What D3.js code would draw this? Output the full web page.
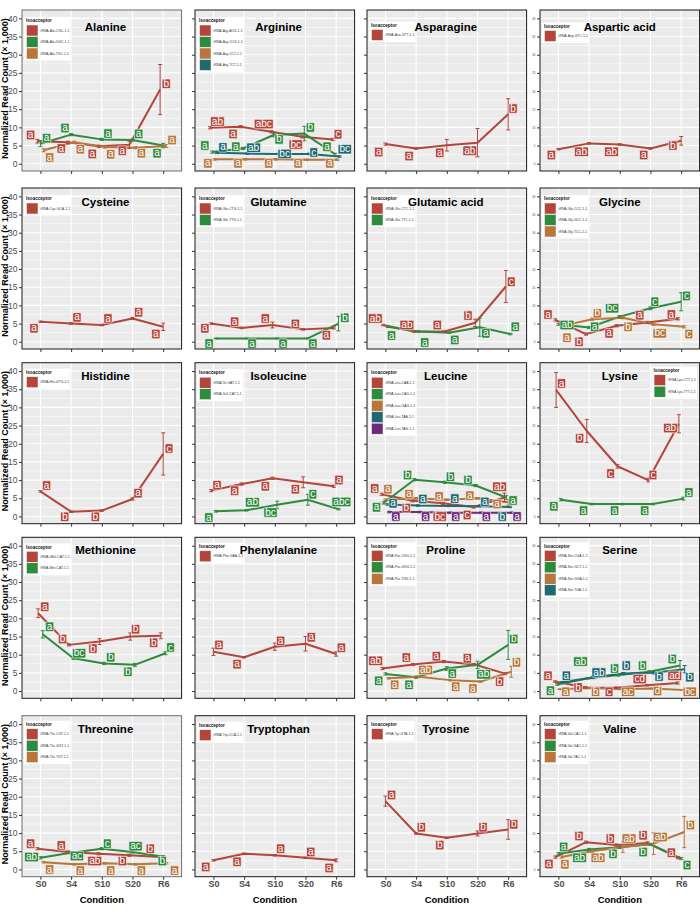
<!DOCTYPE html>
<html><head><meta charset="utf-8">
<script src="https://cdn.jsdelivr.net/npm/d3@7"></script>
<style>body{margin:0;background:#fff}svg{display:block}</style>
</head><body>
<script>
// ---------------- DATA ----------------
const conditions = ["S0","S4","S10","S20","R6"];
const yTicks = [0,5,10,15,20,25,30,35,40];
const aminoAcids = ["Alanine","Arginine","Asparagine","Aspartic acid","Cysteine","Glutamine","Glutamic acid","Glycine","Histidine","Isoleucine","Leucine","Lysine","Methionine","Phenylalanine","Proline","Serine","Threonine","Tryptophan","Tyrosine","Valine"];
const isoacceptors = [
 ["tRNA-Ala-CGC-1-1","tRNA-Ala-GGC-1-1","tRNA-Ala-TGC-1-1"],
 ["tRNA-Arg-ACG-1-1","tRNA-Arg-CCG-1-1","tRNA-Arg-CCT-1-1","tRNA-Arg-TCT-1-1"],
 ["tRNA-Asn-GTT-1-1"],
 ["tRNA-Asp-GTC-1-1"],
 ["tRNA-Cys-GCA-1-1"],
 ["tRNA-Gln-CTG-1-1","tRNA-Gln-TTG-1-1"],
 ["tRNA-Glu-CTC-1-1","tRNA-Glu-TTC-1-1"],
 ["tRNA-Gly-CCC-1-1","tRNA-Gly-GCC-1-1","tRNA-Gly-TCC-1-1"],
 ["tRNA-His-GTG-1-1"],
 ["tRNA-Ile-GAT-1-1","tRNA-Ile2-CAT-1-1"],
 ["tRNA-Leu-CAA-1-1","tRNA-Leu-CAG-1-1","tRNA-Leu-GAG-1-1","tRNA-Leu-TAA-1-1","tRNA-Leu-TAG-1-1"],
 ["tRNA-Lys-CTT-1-1","tRNA-Lys-TTT-1-1"],
 ["tRNA-iMet-CAT-1-1","tRNA-Met-CAT-1-1"],
 ["tRNA-Phe-GAA-1-1"],
 ["tRNA-Pro-CGG-1-1","tRNA-Pro-GGG-1-1","tRNA-Pro-TGG-1-1"],
 ["tRNA-Ser-CGA-1-1","tRNA-Ser-GCT-1-1","tRNA-Ser-GGA-1-1","tRNA-Ser-TGA-1-1"],
 ["tRNA-Thr-CGT-1-1","tRNA-Thr-GGT-1-1","tRNA-Thr-TGT-1-1"],
 ["tRNA-Trp-CCA-1-1"],
 ["tRNA-Tyr-GTA-1-1"],
 ["tRNA-Val-CAC-1-1","tRNA-Val-GAC-1-1","tRNA-Val-TAC-1-1"]
];
// mean normalized read counts (x 1,000) per isoacceptor, S0..R6
const means = [
 [[6.2,5.9,4.8,5.2,20.4],[5.5,8.0,6.7,6.5,5.0],[3.7,5.9,4.6,4.4,4.9]],
 [[9.9,10.2,8.8,7.4,6.7],[3.2,4.2,7.9,8.3,2.6],[1.2,1.2,1.2,1.1,1.1],[3.0,2.8,2.7,2.7,2.0]],
 [[5.4,4.2,5.1,5.8,13.6]],
 [[4.0,5.6,5.3,4.2,6.3]],
 [[5.5,5.0,4.6,6.4,4.1]],
 [[5.0,3.8,4.6,3.4,3.8],[0.9,0.9,0.9,0.9,5.0]],
 [[4.6,2.8,2.8,5.2,15.2],[4.1,2.8,2.5,4.0,2.1]],
 [[6.0,2.1,4.4,5.3,6.3],[4.8,3.9,6.9,9.2,11.0],[4.3,6.2,6.6,4.8,4.1]],
 [[6.9,1.3,1.6,4.8,17.2]],
 [[7.1,8.9,10.5,9.4,8.3],[1.4,1.7,3.2,4.6,2.0]],
 [[6.1,4.3,3.6,2.6,5.2],[3.7,10.1,9.4,8.5,5.2],[4.6,5.0,4.6,5.0,3.9],[3.3,3.0,2.9,2.8,2.6],[1.2,1.2,1.0,1.0,1.0]],
 [[34.8,23.5,13.8,10.0,25.5],[4.6,3.4,3.4,3.4,4.9]],
 [[21.4,12.7,13.6,15.0,15.2],[15.6,9.0,7.6,7.2,10.4]],
 [[10.8,9.3,12.2,13.0,10.2]],
 [[6.2,7.3,8.1,7.3,4.8],[4.7,3.8,6.2,7.2,12.7],[3.5,3.9,3.0,2.6,5.3]],
 [[2.6,1.0,0.9,1.6,2.2],[1.8,3.5,4.4,5.3,7.0],[0.5,0.8,0.5,0.7,0.3],[2.4,3.7,4.8,5.0,6.0]],
 [[5.7,4.8,4.3,3.9,3.4],[3.2,4.6,5.7,4.8,3.5],[2.0,1.4,1.7,1.4,1.7]],
 [[2.5,4.3,3.9,3.2,2.5]],
 [[18.8,9.9,8.7,9.9,11.0]],
 [[3.4,7.5,6.7,7.3,3.2],[4.3,5.5,6.1,6.9,3.0],[3.4,5.0,6.2,7.1,10.3]]
];
// standard errors
const errors = [
 [[0.5,0.3,0.3,1.0,6.9],[0.8,0.3,0.3,0.3,0.6],[0.4,0.3,0.3,0.3,0.4]],
 [[0.3,0.3,0.3,0.3,0.3],[0.3,0.3,0.5,2.0,0.3],[0.2,0.2,0.2,0.2,0.2],[0.2,0.2,0.2,0.2,0.2]],
 [[0.3,0.2,1.6,3.9,4.3]],
 [[0.2,0.2,0.2,0.2,1.2]],
 [[0.2,0.2,0.2,0.3,1.0]],
 [[0.2,0.2,0.8,0.2,0.3],[0.1,0.1,0.1,0.1,2.0]],
 [[0.2,0.2,0.2,1.0,4.4],[0.2,0.2,0.2,2.5,0.2]],
 [[0.3,0.3,0.3,0.3,0.3],[0.3,0.3,0.3,0.4,2.5],[0.3,0.3,0.3,0.3,0.3]],
 [[0.2,0.2,0.2,0.3,5.8]],
 [[0.3,0.3,0.3,1.5,0.3],[0.2,0.2,1.0,1.5,0.2]],
 [[0.3,0.3,0.3,0.3,1.2],[0.3,0.3,0.3,0.3,0.5],[0.2,0.2,0.2,0.2,0.8],[0.2,0.2,0.2,0.2,0.2],[0.2,0.2,0.2,0.2,0.2]],
 [[4.8,3.2,0.5,0.5,2.5],[0.3,0.2,0.2,0.2,0.4]],
 [[1.2,0.3,0.8,1.0,0.8],[1.0,0.3,0.3,0.4,0.4]],
 [[1.0,0.2,1.0,2.0,0.6]],
 [[0.3,0.3,0.3,0.3,0.3],[0.3,0.3,0.5,1.0,4.0],[0.2,0.2,0.2,0.2,1.5]],
 [[0.2,0.2,0.2,0.2,0.3],[0.2,0.2,0.3,0.3,1.4],[0.1,0.1,0.1,0.1,0.1],[0.2,0.3,0.3,0.3,1.0]],
 [[0.3,0.3,0.3,0.3,0.3],[0.3,0.3,0.3,0.3,0.3],[0.2,0.2,0.2,0.2,0.2]],
 [[0.2,0.2,0.2,0.2,0.4]],
 [[1.4,0.2,0.2,0.7,2.7]],
 [[0.3,0.3,0.3,0.3,0.3],[0.3,0.3,0.3,0.3,0.3],[0.3,0.3,1.5,3.0,4.3]]
];
// significance letters
const letters = [
 [["a","a","a","a","b"],["a","a","a","a","a"],["a","a","a","a","a"]],
 [["ab","a","abc","bc","c"],["a","a","b","b","a"],["a","a","a","a","a"],["a","ab","bc","c","bc"]],
 [["a","a","a","ab","b"]],
 [["a","ab","ab","a","b"]],
 [["a","a","a","a","a"]],
 [["a","a","a","a","a"],["a","a","a","a","b"]],
 [["ab","ab","a","b","c"],["a","a","a","a","a"]],
 [["a","b","a","a","a"],["ab","a","bc","c","c"],["a","b","b","bc","c"]],
 [["a","b","b","a","c"]],
 [["a","a","a","a","a"],["a","ab","bc","c","abc"]],
 [["a","b","bc","c","ab"],["a","b","b","b","a"],["a","a","a","a","a"],["a","a","a","a","b"],["a","a","a","a","a"]],
 [["a","b","c","c","ab"],["a","a","a","a","a"]],
 [["a","b","b","b","b"],["a","bc","b","b","c"]],
 [["a","a","a","a","a"]],
 [["ab","a","a","a","b"],["a","a","a","ab","b"],["a","ab","a","a","b"]],
 [["a","b","c","cd","ad"],["a","ab","b","b","b"],["a","b","ac","d","bc"],["a","ab","b","b","b"]],
 [["a","a","ab","b","b"],["ab","ac","c","ac","b"],["a","a","a","a","a"]],
 [["a","a","a","a","a"]],
 [["a","b","b","b","b"]],
 [["a","b","b","b","a"],["a","ab","b","b","c"],["a","ab","ab","ab","b"]]
];
// repelled label anchor: condition position (1 = S0 ... 5 = R6)
const labelX = [
 [[0.68,1.68,2.69,3.67,5.10],[1.20,1.80,3.20,4.20,4.80],[1.30,2.30,3.29,4.29,5.29]],
 [[1.13,1.64,2.64,3.68,5.06],[0.72,1.73,3.14,4.16,4.70],[0.82,1.80,2.80,3.76,4.79],[1.31,2.31,3.32,4.27,5.28]],
 [[0.78,1.77,2.77,3.75,5.16]],
 [[0.77,1.75,2.73,3.78,4.73]],
 [[0.79,2.19,3.20,4.20,4.76]],
 [[0.72,1.69,2.69,3.67,4.68],[0.86,2.26,3.27,4.24,5.28]],
 [[0.67,1.70,2.69,3.69,5.10],[1.20,2.28,3.26,4.27,5.23]],
 [[0.66,1.67,2.65,3.65,4.68],[1.28,2.18,2.75,4.14,5.17],[1.28,2.27,3.27,4.30,5.25]],
 [[1.20,1.79,2.79,4.18,5.19]],
 [[1.12,1.69,2.69,3.67,5.09],[0.85,2.27,2.86,4.24,5.17]],
 [[0.65,1.68,2.77,3.66,4.72],[0.71,1.72,3.12,3.69,5.16],[1.08,1.77,2.75,3.75,4.64],[1.25,2.22,3.26,4.24,4.81],[1.34,2.31,3.29,4.29,5.29]],
 [[1.10,1.69,2.70,4.08,4.65],[0.85,1.82,2.83,3.81,5.25]],
 [[1.14,1.72,2.71,4.10,4.69],[1.30,2.26,3.29,3.85,5.24]],
 [[1.18,1.77,3.19,4.19,5.17]],
 [[0.68,1.68,2.66,3.67,4.72],[0.78,1.77,3.18,4.20,5.18],[1.30,2.31,3.29,3.85,5.27]],
 [[0.66,1.64,2.65,3.65,4.79],[0.74,1.72,2.83,3.74,4.71],[1.24,2.21,3.27,4.23,5.28],[1.26,2.32,3.21,4.28,5.28]],
 [[0.68,1.68,2.77,3.67,4.58],[0.71,2.19,3.18,4.10,4.97],[1.30,2.30,3.29,4.29,5.37]],
 [[0.75,1.77,3.19,4.17,4.77]],
 [[1.20,2.17,2.77,4.18,5.18]],
 [[0.69,1.67,2.69,3.76,4.68],[1.17,1.69,2.78,3.76,5.19],[1.21,2.29,3.30,4.32,5.30]]
];
// repelled label anchor: value (x 1,000)
const labelY = [
 [[7.9,4.2,2.7,3.6,22.0],[7.0,9.8,8.3,8.2,2.9],[1.7,4.0,2.6,2.9,6.5]],
 [[11.6,8.2,10.9,5.3,8.1],[5.0,4.7,6.7,10.0,4.7],[0.1,0.1,0.1,0.1,0.1],[4.5,4.4,2.7,3.1,4.0]],
 [[3.2,2.1,3.0,3.6,15.2]],
 [[2.4,3.3,3.3,2.4,5.0]],
 [[3.7,6.7,6.4,8.1,2.1]],
 [[3.7,5.5,6.4,4.9,1.8],[-0.5,-0.5,-0.5,-0.5,6.6]],
 [[6.4,4.6,4.6,7.2,16.5],[1.7,-0.2,0.5,2.3,4.1]],
 [[7.5,0.0,2.3,7.3,7.5],[4.6,4.1,9.2,11.0,12.6],[1.1,7.8,4.1,2.3,2.1]],
 [[8.5,-0.1,-0.1,6.4,18.7]],
 [[8.6,7.1,8.3,7.5,10.0],[-0.3,3.9,1.1,6.1,4.0]],
 [[7.7,2.3,0.0,0.4,8.2],[2.5,11.4,10.9,10.0,4.4],[7.5,6.1,5.5,5.7,3.4],[3.6,4.8,4.9,4.0,0.0],[0.0,0.0,0.0,0.0,0.0]],
 [[36.6,21.5,11.8,11.4,24.3],[2.8,1.6,1.6,1.6,6.6]],
 [[23.2,14.3,11.7,17.0,13.3],[17.7,10.4,9.3,5.3,12.0]],
 [[12.7,7.4,13.8,14.8,11.9]],
 [[8.3,9.2,9.6,9.0,2.6],[2.8,1.7,4.8,4.6,14.3],[1.7,5.8,1.2,0.7,7.9]],
 [[4.2,1.0,-0.2,3.3,4.2],[0.1,8.1,6.2,7.0,8.8],[-0.2,-0.2,-0.2,0.0,-0.2],[4.2,5.1,7.0,4.0,3.8]],
 [[7.1,6.6,2.3,2.3,5.7],[3.4,3.7,7.1,6.4,2.3],[0.0,-0.3,-0.3,-0.3,-0.3]],
 [[0.7,2.1,5.7,4.8,0.4]],
 [[20.5,11.6,6.7,11.6,12.4]],
 [[1.5,9.2,8.5,9.4,4.6],[6.2,3.2,4.3,4.8,1.2],[1.4,3.2,8.5,8.9,12.2]]
];
const legendRight = ["Lysine"];

// ---------------- STYLE / LAYOUT ----------------
const W = 700, H = 913;
const colLeft = [22,195,367,540];
const rowTop = [10,188,362.7,537.3,715.7];
const pw = 159.6, ph = 161;
const titleShift = [3.7,3.7,-1,0];
const titleBase = [20.5,18,17,17,17.5];
const legendTop = [7,7,11.5,12.5, 7,7,7,7, 6,6.5,6.5,4, 6,5.5,5,5, 5,6,5,5];
const greyBorder = ["Alanine","Threonine"];
const palette = ["#B4453B","#2E8A3E","#B8763C","#1F6970","#6B2A7A"];
const FONT = "'Liberation Sans', Arial, Helvetica, sans-serif";

const svg = d3.select("body").append("svg").attr("width",W).attr("height",H)
  .style("font-family",FONT);

aminoAcids.forEach((aa,p)=>{
  const col = p%4, row = Math.floor(p/4);
  const L = colLeft[col], T = rowTop[row];
  const n = isoacceptors[p].length;
  const g = svg.append("g").attr("transform",`translate(${L},${T})`);
  const x = d3.scaleLinear().domain([0.4,5.6]).range([0,pw]);
  const y = d3.scaleLinear().domain([-2,42.3]).range([ph,0]);

  g.append("rect").attr("width",pw).attr("height",ph).attr("fill","#EBEBEB");
  g.selectAll(".mn").data(d3.range(2.5,42,5)).join("line")
    .attr("x1",0).attr("x2",pw).attr("y1",d=>y(d)).attr("y2",d=>y(d))
    .attr("stroke","#fff").attr("stroke-width",0.55);
  g.selectAll(".mj").data(yTicks).join("line")
    .attr("x1",0).attr("x2",pw).attr("y1",d=>y(d)).attr("y2",d=>y(d))
    .attr("stroke","#fff").attr("stroke-width",1.1);
  g.selectAll(".vx").data([1,2,3,4,5]).join("line")
    .attr("y1",0).attr("y2",ph).attr("x1",d=>x(d)).attr("x2",d=>x(d))
    .attr("stroke","#fff").attr("stroke-width",1.1);

  const dodge = i => (i-(n-1)/2)*0.3/n;
  const line = d3.line().x(d=>x(d[0])).y(d=>y(d[1]));
  means[p].forEach((vals,i)=>{
    const pts = vals.map((v,k)=>[k+1+dodge(i),v]);
    g.append("path").attr("d",line(pts)).attr("fill","none")
      .attr("stroke",palette[i]).attr("stroke-width",2).attr("stroke-linejoin","round");
  });
  means[p].forEach((vals,i)=>{
    vals.forEach((v,k)=>{
      const e = errors[p][i][k], cx = x(k+1+dodge(i));
      const eg = g.append("g").attr("stroke",palette[i]).attr("stroke-width",1);
      eg.append("line").attr("x1",cx).attr("x2",cx).attr("y1",y(v-e)).attr("y2",y(v+e));
      eg.append("line").attr("x1",cx-2).attr("x2",cx+2).attr("y1",y(v-e)).attr("y2",y(v-e));
      eg.append("line").attr("x1",cx-2).attr("x2",cx+2).attr("y1",y(v+e)).attr("y2",y(v+e));
    });
  });
  letters[p].forEach((arr,i)=>{
    arr.forEach((t,k)=>{
      const lab = g.append("g").attr("transform",`translate(${x(labelX[p][i][k])},${y(labelY[p][i][k])})`);
      const txt = lab.append("text").text(t).attr("font-size",10).attr("fill","#fff")
        .attr("text-anchor","middle").attr("y",3.1);
      const w = txt.node().getComputedTextLength()+2.8;
      lab.insert("rect","text").attr("x",-w/2).attr("y",-4.75).attr("width",w).attr("height",9.5)
        .attr("rx",1).attr("fill",palette[i]).attr("stroke","#fff").attr("stroke-width",0.6);
    });
  });

  // legend
  const lgG = g.append("g");
  const texts = [];
  const title = lgG.append("text").text("Isoacceptor").attr("font-size",4.6).attr("font-weight","bold").attr("fill","#111");
  isoacceptors[p].forEach((nm,i)=>{
    lgG.append("rect").attr("class","key").attr("fill",palette[i]);
    texts.push(lgG.append("text").text(nm).attr("font-size",3.4).attr("fill","#333"));
  });
  const maxW = d3.max(texts, t=>t.node().getComputedTextLength());
  const boxW = 14.5 + maxW + 3;
  const boxH = 8 + n*11.5 + 1;
  const right = legendRight.includes(aa);
  const bx = right ? pw-2.6-boxW : 2, by = legendTop[p];
  lgG.insert("rect",":first-child").attr("x",bx).attr("y",by).attr("width",boxW).attr("height",boxH).attr("fill","#fff");
  title.attr("x",bx+2).attr("y",by+5.3);
  lgG.selectAll("rect.key").attr("x",bx+2.5).attr("y",(d,i)=>by+8+i*11.5)
    .attr("width",11.5).attr("height",11).attr("stroke","#fff").attr("stroke-width",0.5);
  texts.forEach((t,i)=>t.attr("x",bx+16.5).attr("y",by+8+i*11.5+6.7));

  g.append("text").text(aa).attr("x",pw/2+titleShift[col]).attr("y",titleBase[row])
    .attr("text-anchor","middle").attr("font-size",11.5).attr("font-weight","bold").attr("fill","#000");

  g.append("rect").attr("width",pw).attr("height",ph).attr("fill","none")
    .attr("stroke", greyBorder.includes(aa) ? "#6e6e6e" : "#1a1a1a").attr("stroke-width",1);

  const ya = g.append("g").call(d3.axisLeft(y).tickValues(yTicks).tickSize(3).tickPadding(1.5));
  ya.select(".domain").remove();
  ya.selectAll(".tick line").attr("stroke","#333");
  if (col===0) ya.selectAll("text").attr("font-size",8.5).attr("fill","#4D4D4D").attr("font-family",FONT);
  else if (col===3) ya.selectAll("text").attr("font-size",3).attr("fill","#4D4D4D").attr("font-family",FONT);
  else ya.selectAll("text").remove();

  const xa = g.append("g").attr("transform",`translate(0,${ph})`)
    .call(d3.axisBottom(x).tickValues([1,2,3,4,5]).tickFormat(d=>conditions[d-1]).tickSize(3).tickPadding(0.5));
  xa.select(".domain").remove();
  xa.selectAll(".tick line").attr("stroke","#333");
  if (row===4) {
    xa.selectAll("text").attr("font-size",9).attr("font-weight","bold").attr("fill","#4D4D4D").attr("font-family",FONT);
    svg.append("text").text("Condition").attr("x",L+pw/2).attr("y",902.7).attr("text-anchor","middle")
      .attr("font-size",9.5).attr("font-weight","bold").attr("fill","#000");
  } else xa.selectAll("text").remove();

  if (col===0) {
    svg.append("text").text("Normalized Read Count (× 1,000)")
      .attr("transform",`translate(8,${T+ph/2-2}) rotate(-90)`)
      .attr("text-anchor","middle").attr("font-size",9).attr("font-weight","bold").attr("fill","#000");
  }
});
</script>
</body></html>
